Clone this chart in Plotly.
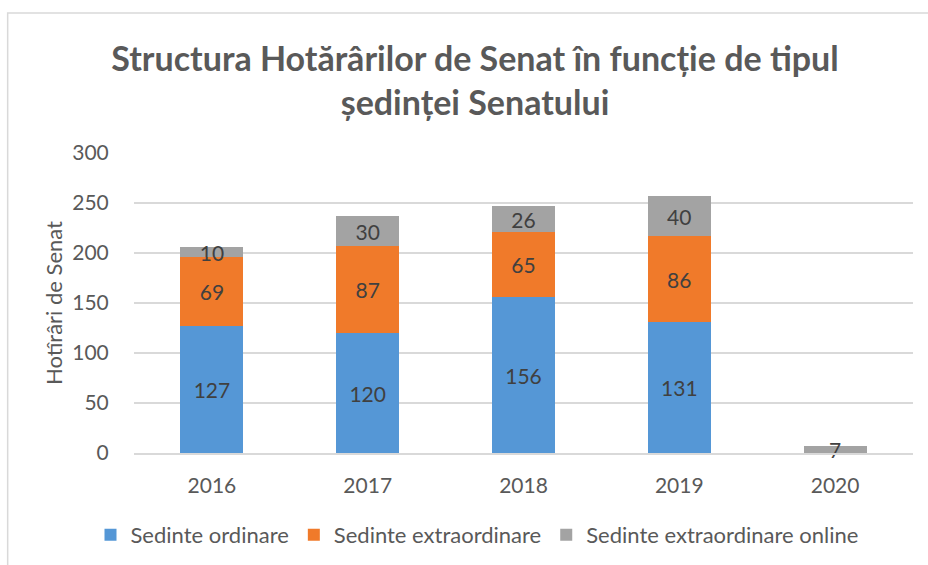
import plotly.graph_objects as go

years = ["2016", "2017", "2018", "2019", "2020"]
ordinare = [127, 120, 156, 131, None]
extraordinare = [69, 87, 65, 86, None]
online = [10, 30, 26, 40, 7]

series = [
    ("Sedinte ordinare", ordinare, "#5597d6"),
    ("Sedinte extraordinare", extraordinare, "#f07a2a"),
    ("Sedinte extraordinare online", online, "#a3a3a3"),
]

FONT = "Lato, 'Open Sans', sans-serif"
fig = go.Figure()
for name, vals, col in series:
    fig.add_trace(go.Bar(
        x=years, y=vals, name=name,
        marker=dict(color=col, line=dict(width=0)),
        text=[("" if v is None else str(v)) for v in vals],
        textposition="inside", insidetextanchor="middle", textangle=0,
        constraintext="none", cliponaxis=False,
        textfont=dict(family=FONT, size=21, color="#404040"),
    ))

fig.update_layout(
    barmode="stack", bargap=0.596,
    width=928, height=565,
    margin=dict(l=133.5, r=14.5, t=153, b=112),
    paper_bgcolor="white", plot_bgcolor="white",
    font=dict(family=FONT, color="#595959"),
    title=dict(
        text="<b>Structura Hotărârilor de Senat în funcție de tipul<br>ședinței Senatului</b>",
        x=475 / 928, xanchor="center", xref="container",
        y=1 - 71 / 565, yanchor="middle", yref="container",
        font=dict(family=FONT, size=34, color="#595959"),
    ),
    xaxis=dict(
        showgrid=False, showline=True, linecolor="#d9d9d9", linewidth=1.5,
        ticks="outside", ticklen=13, tickcolor="rgba(0,0,0,0)",
        tickfont=dict(family=FONT, size=21, color="#595959"),
    ),
    yaxis=dict(
        range=[0, 300], dtick=50, showgrid=True, gridcolor="#d9d9d9", gridwidth=1.5,
        zeroline=False, showline=False,
        ticks="outside", ticklen=20, tickcolor="rgba(0,0,0,0)",
        tickfont=dict(family=FONT, size=21, color="#595959"),
        title=dict(text="Hotîrâri de Senat", standoff=3,
                   font=dict(family=FONT, size=22, color="#595959")),
    ),
    legend=dict(
        orientation="h", xref="container", yref="container", traceorder="normal",
        x=477 / 928, xanchor="center", y=1 - 535 / 565, yanchor="middle",
        font=dict(family=FONT, size=22, color="#595959"),
        itemwidth=30, tracegroupgap=0,
    ),
    shapes=[dict(
        type="rect", xref="paper", yref="paper",
        x0=(7 - 133.5) / 780, x1=(940 - 133.5) / 780,
        y0=(453 - 600) / 300, y1=(453 - 13) / 300,
        line=dict(color="#d9d9d9", width=1.5), fillcolor="rgba(0,0,0,0)",
        layer="below",
    )],
)

fig.write_html("out.html", config={"displayModeBar": False},
               post_script="document.body.style.margin='0px';")
